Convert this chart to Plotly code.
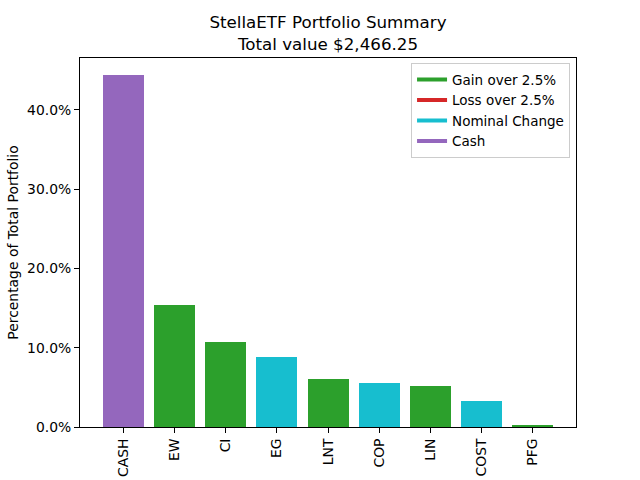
import plotly.graph_objects as go

# holdings, share of total portfolio (fraction)
tickers = ["CASH", "EW", "CI", "EG", "LNT", "COP", "LIN", "COST", "PFG"]
shares = [0.444, 0.154, 0.107, 0.088, 0.0605, 0.0555, 0.0517, 0.0328, 0.0025]
status = ["Cash", "Gain over 2.5%", "Gain over 2.5%", "Nominal Change",
          "Gain over 2.5%", "Nominal Change", "Gain over 2.5%",
          "Nominal Change", "Gain over 2.5%"]

legend_names = ["Gain over 2.5%", "Loss over 2.5%", "Nominal Change", "Cash"]
legend_colors = ["#2ca02c", "#d62728", "#17becf", "#9467bd"]
color_of = dict(zip(legend_names, legend_colors))

fig = go.Figure()
fig.add_trace(go.Bar(x=list(range(len(tickers))), y=shares, width=0.8,
                     marker=dict(color=[color_of[s] for s in status], line=dict(width=0)),
                     showlegend=False))

# legend entries drawn as thick lines, like the original
for name, col in zip(legend_names, legend_colors):
    fig.add_trace(go.Scatter(x=[None], y=[None], mode="lines", name=name,
                             line=dict(color=col, width=4)))

fig.update_layout(
    width=640, height=480,
    margin=dict(l=80, r=64, t=58, b=53, autoexpand=False),
    paper_bgcolor="white", plot_bgcolor="white",
    font=dict(family="DejaVu Sans", size=13.9, color="black"),
    title=dict(text="StellaETF Portfolio Summary<br>Total value $2,466.25",
               x=328 / 640, xanchor="center", yref="container", y=1 - 28 / 480,
               yanchor="top", font=dict(size=16.7)),
    legend=dict(x=0.988, xanchor="right", y=0.986, yanchor="top",
                bordercolor="#cccccc", borderwidth=1, bgcolor="rgba(255,255,255,0.8)",
                font=dict(size=13.5), tracegroupgap=0),
    bargap=0,
)
fig.update_xaxes(
    range=[-0.84, 8.84], tickmode="array", tickvals=list(range(len(tickers))),
    ticktext=tickers, tickangle=-90, ticks="outside", ticklen=5, tickcolor="black",
    showline=True, linecolor="black", linewidth=1, mirror=True, showgrid=False,
    zeroline=False, automargin=False,
)
fig.update_yaxes(
    range=[0, 0.4656], tickformat=".1%", dtick=0.1, ticks="outside", ticklen=5,
    tickcolor="black", showline=True, linecolor="black", linewidth=1, mirror=True,
    showgrid=False, zeroline=False, automargin=False,
    title=dict(text="Percentage of Total Portfolio", font=dict(size=13.9), standoff=5),
)

# drop the page's default body margin so the 640x480 figure fills the window
fig.write_html("out.html", config={"displayModeBar": False},
               post_script="document.body.style.margin = '0';")
